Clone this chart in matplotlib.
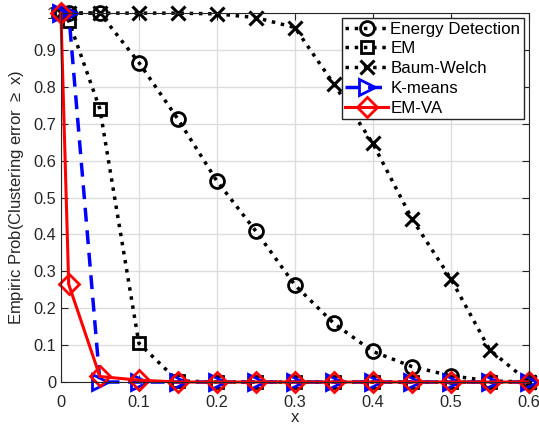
import numpy as np
import matplotlib.pyplot as plt

plt.rcParams['font.family'] = ['Liberation Sans', 'DejaVu Sans']
plt.rcParams['mathtext.fontset'] = 'custom'
plt.rcParams['mathtext.rm'] = 'Liberation Sans'

# threshold values on the x axis
x = [0, 0.01, 0.05, 0.1, 0.15, 0.2, 0.25, 0.3, 0.35, 0.4, 0.45, 0.5, 0.55, 0.6]

energy_det = [1, 1, 1, 0.866, 0.713, 0.545, 0.409, 0.263, 0.159, 0.083, 0.042, 0.017, 0.003, 0]
em = [1, 0.98, 0.74, 0.105, 0.003, 0, 0, 0, 0, 0, 0, 0, 0, 0]
baum_welch = [1, 1, 1, 1, 1, 0.998, 0.988, 0.961, 0.808, 0.647, 0.443, 0.28, 0.087, 0]
kmeans = [1, 1, 0, 0, 0, 0, 0, 0, 0, 0, 0, 0, 0, 0]
em_va = [1, 0.265, 0.015, 0.005, 0, 0, 0, 0, 0, 0, 0, 0, 0, 0]

fig = plt.figure(figsize=(5.39, 4.24), dpi=100)
ax = fig.add_axes([0.113, 0.099, 0.868, 0.870])

ms = 10
ax.plot(x, energy_det, 'k:', marker='o', mfc='none', mew=2, ms=ms, lw=2.5,
        clip_on=False, label='Energy Detection')
ax.plot(x, em, 'k:', marker='s', mfc='none', mew=2, ms=ms - 1, lw=2.5,
        clip_on=False, label='EM')
ax.plot(x, baum_welch, 'k:', marker='x', mew=2.2, ms=ms, lw=2.5,
        clip_on=False, label='Baum-Welch')
ax.plot(x, kmeans, color='b', ls='--', marker='>', mfc='none', mew=2, ms=ms + 2, lw=2.5,
        dashes=(4, 2.5), clip_on=False, label='K-means')
ax.plot(x, em_va, color='r', ls='-', marker='D', mfc='none', mew=2, ms=ms, lw=2.2,
        clip_on=False, label='EM-VA')

ax.set_xlim(0, 0.6)
ax.set_ylim(0, 1)
ax.set_xticks(np.arange(0, 0.61, 0.1))
ax.set_xticklabels(['0', '0.1', '0.2', '0.3', '0.4', '0.5', '0.6'])
ax.set_yticks(np.arange(0, 1.01, 0.1))
ax.set_yticklabels(['0'] + ['%.1f' % v for v in np.arange(0.1, 0.95, 0.1)] + ['1'])

ax.grid(True, color='#dcdcdc', lw=1)
ax.set_axisbelow(True)
ax.tick_params(direction='in', top=True, right=True, labelsize=11.8, colors='#262626',
               length=5, width=0.8)
ax.tick_params(axis='x', pad=9)
for s in ax.spines.values():
    s.set_color('#262626')
    s.set_linewidth(0.8)

ax.set_xlabel('x', fontsize=12, color='#262626', labelpad=0)
ax.set_ylabel('Empiric Prob(Clustering error $\\geq$ x)', fontsize=12, color='#262626', labelpad=5)

leg = ax.legend(loc='upper right', fontsize=12.2, frameon=True, fancybox=False,
                borderpad=0.2, labelspacing=0.28, handlelength=2.5, handletextpad=0.15,
                borderaxespad=0.3)
leg.get_frame().set_edgecolor('#262626')
leg.get_frame().set_linewidth(1)
leg.get_frame().set_alpha(1)

fig.savefig('out.png', dpi=100)
